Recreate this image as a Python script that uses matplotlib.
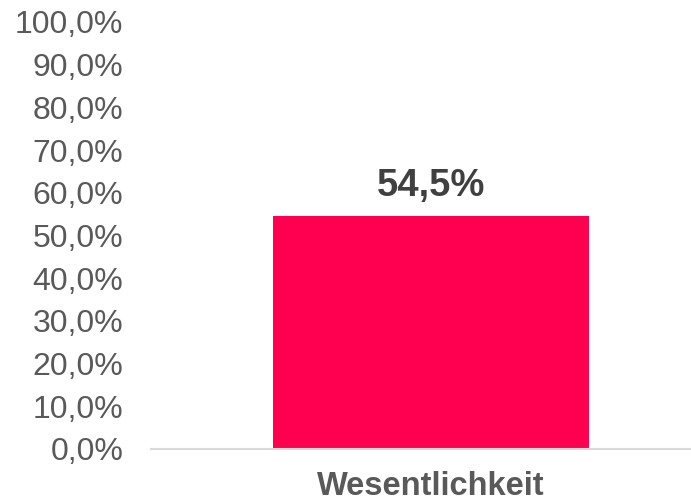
import matplotlib
matplotlib.use("Agg")
import matplotlib.pyplot as plt
from matplotlib.ticker import FuncFormatter

categories = ["Wesentlichkeit"]
values = [54.5]
yticks = [0, 10, 20, 30, 40, 50, 60, 70, 80, 90, 100]

plt.rcParams['font.family'] = ['Liberation Sans', 'DejaVu Sans']

fig = plt.figure(figsize=(6.91, 5.01), dpi=100)
ax = fig.add_axes([151/691, 52/501, 540/691, 427/501])

x = list(range(len(categories)))
bars = ax.bar(x, values, width=0.585, color="#FF0050", zorder=2)

ax.set_ylim(0, 100)
ax.set_xlim(-0.5185, 0.4815)
ax.set_yticks(yticks)
ax.yaxis.set_major_formatter(FuncFormatter(lambda v, p: f"{v:.1f}%".replace(".", ",")))
ax.set_xticks(x)
ax.set_xticklabels(categories, fontsize=23.5, fontweight="bold", color="#595959")
ax.tick_params(axis="y", length=0, pad=20, labelsize=23, labelcolor="#595959")
ax.tick_params(axis="x", length=0, pad=15.5)

for s in ["top", "right", "left"]:
    ax.spines[s].set_visible(False)
ax.spines["bottom"].set_color("#D9D9D9")
ax.spines["bottom"].set_linewidth(1.5)

for b, v in zip(bars, values):
    ax.annotate(f"{v:.1f}%".replace(".", ","), (b.get_x() + b.get_width()/2, v),
                xytext=(0, 9), textcoords="offset points", ha="center", va="bottom",
                fontsize=27.5, fontweight="bold", color="#404040")

fig.savefig("out.png", dpi=100)
